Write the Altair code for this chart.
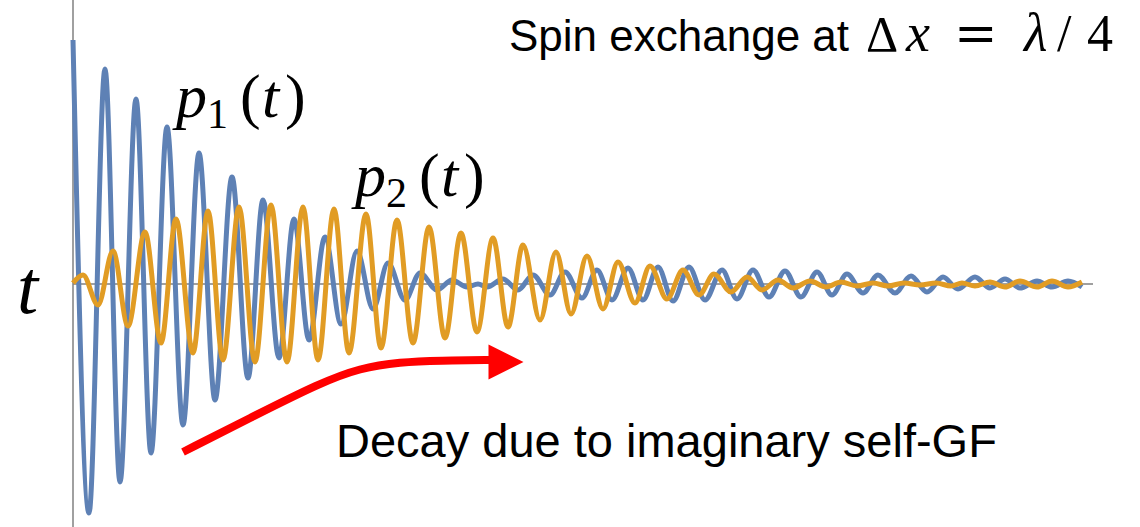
import altair as alt
import pandas as pd

# Turning points: time (arb. units) and amplitude (arb. units)
P1_T = [0, 16, 32, 47, 63, 78, 94, 110, 126, 142,
        159, 175, 190, 206, 221, 236, 252, 268, 284, 300,
        315, 332, 347, 364, 379, 394, 405, 414, 430, 445,
        460, 477, 492, 509, 524, 539, 555, 570, 585, 600,
        616, 632, 649, 664, 680, 696, 712, 728, 744, 759,
        774, 790, 805, 822, 838, 854, 870, 885, 902, 917,
        932, 947, 964, 979, 995, 1009]
P1_V = [244, -229, 215, -198, 185, -169, 157, -141, 131, -116,
        107, -94, 84, -74, 65, -56, 47, -40, 33, -25,
        21, -16, 11, -6, 4, -3, 0, -3, 5, -6,
        9, -11, 12, -14, 14, -16, 16, -16, 17, -17,
        17, -16, 14, -15, 14, -13, 13, -13, 12, -11,
        10, -9, 9, -9, 8, -8, 7, -5, 7, -4,
        5, -4, 3, -3, 3, -3]

P2_T = [0, 10, 25, 40, 55, 72, 88, 103, 120, 135,
        150, 166, 182, 198, 214, 230, 245, 261, 276, 293,
        308, 324, 340, 356, 372, 388, 404, 420, 435, 450,
        467, 483, 498, 514, 530, 545, 562, 577, 594, 610,
        626, 641, 658, 674, 689, 705, 720, 737, 753, 768,
        784, 800, 815, 831, 847, 863, 878, 889, 902, 917,
        932, 947, 964, 979, 995, 1009]
P2_V = [1, 9, -21, 33, -42, 52, -59, 65, -69, 73,
        -76, 77, -78, 79, -78, 77, -76, 75, -69, 70,
        -64, 64, -59, 57, -54, 51, -48, 46, -43, 39,
        -36, 32, -30, 28, -25, 22, -19, 18, -15, 14,
        -11, 10, -8, 7, -6, 4, -4, 3, -3, 2,
        -2, 1, -2, 1, -1, 1, -2, 1, -2, 2,
        -3, 3, -3, 3, -3, 2]

AXIS_T_END = 1020
BLUE = "#5E81B5"
ORANGE = "#E19C24"
GRAY = "#808080"

W, H = 1140, 527
xs = alt.Scale(domain=[-73, 1067], nice=False, zero=False)
ys = alt.Scale(domain=[-243, 284], nice=False, zero=False)

p1 = pd.DataFrame({"t": P1_T, "v": P1_V})
p2 = pd.DataFrame({"t": P2_T, "v": P2_V})

haxis = alt.Chart(pd.DataFrame({"t0": [0], "t1": [AXIS_T_END], "v": [0]})).mark_rule(
    color=GRAY, strokeWidth=1.5
).encode(x=alt.X("t0:Q", scale=xs, axis=None), x2="t1:Q", y=alt.Y("v:Q", scale=ys, axis=None))

vaxis = alt.Chart(pd.DataFrame({"t": [0], "v0": [-243], "v1": [284]})).mark_rule(
    color=GRAY, strokeWidth=1.5
).encode(x=alt.X("t:Q", scale=xs, axis=None), y=alt.Y("v0:Q", scale=ys, axis=None), y2="v1:Q")


def curve(df, color):
    return alt.Chart(df).mark_line(
        color=color, strokeWidth=5, interpolate="monotone"
    ).encode(
        x=alt.X("t:Q", scale=xs, axis=None),
        y=alt.Y("v:Q", scale=ys, axis=None),
        order="t:Q",
    )


# red arrow (annotation, pixel positions)
ARROW_X = [183, 252, 320, 360, 400, 440, 494]
ARROW_Y = [452, 417, 383, 368, 362, 360.5, 360]
arrow_line = alt.Chart(pd.DataFrame({"x": ARROW_X, "y": ARROW_Y})).mark_line(
    color="#FF0000", strokeWidth=8, interpolate="basis", strokeCap="butt"
).encode(x=alt.X("x:Q", scale=None), y=alt.Y("y:Q", scale=None), order="x:Q")
arrow_head = alt.Chart(pd.DataFrame({"a": [0]})).mark_point(
    shape="M-1,-1L1,0L-1,1Z", filled=True, fill="#FF0000", stroke=None,
    size=35 * 35, opacity=1
).encode(x=alt.value(506), y=alt.value(362))


def label(text, x, y, size, font="Liberation Serif", style="normal"):
    return alt.Chart(pd.DataFrame({"a": [0]})).mark_text(
        text=text, align="left", baseline="alphabetic", font=font,
        fontSize=size, fontStyle=style, color="black"
    ).encode(x=alt.value(x), y=alt.value(y))


texts = [
    # t at axis
    label("t", 17, 313, 76, style="italic"),
    # p1(t)
    label("p", 176, 117, 62, style="italic"),
    label("1", 207, 128, 42),
    label("(", 240, 117, 62),
    label("t", 262, 117, 62, style="italic"),
    label(")", 285, 117, 62),
    # p2(t)
    label("p", 355, 196, 62, style="italic"),
    label("2", 386, 207, 42),
    label("(", 419, 196, 62),
    label("t", 441, 196, 62, style="italic"),
    label(")", 464, 196, 62),
    # title
    label("Spin exchange at", 509, 51, 44, font="Liberation Sans"),
    label("Δ", 866, 51, 50),
    label("x", 906, 51, 54, style="italic"),
    label("=", 954, 51, 52, font="DejaVu Serif"),
    label("λ", 1024, 51, 54, style="italic"),
    label("/", 1057, 51, 52),
    label("4", 1087, 51, 52),
    # decay note
    label("Decay due to imaginary self-GF", 336, 457, 47, font="Liberation Sans"),
]

chart = alt.layer(
    haxis, vaxis, curve(p1, BLUE), curve(p2, ORANGE), arrow_line, arrow_head, *texts
).properties(
    width=W, height=H, padding=0, autosize=alt.AutoSizeParams(type="none"),
    background="white"
).configure_view(stroke=None)

chart.save("out.html", embed_options={"renderer": "svg", "actions": False})
